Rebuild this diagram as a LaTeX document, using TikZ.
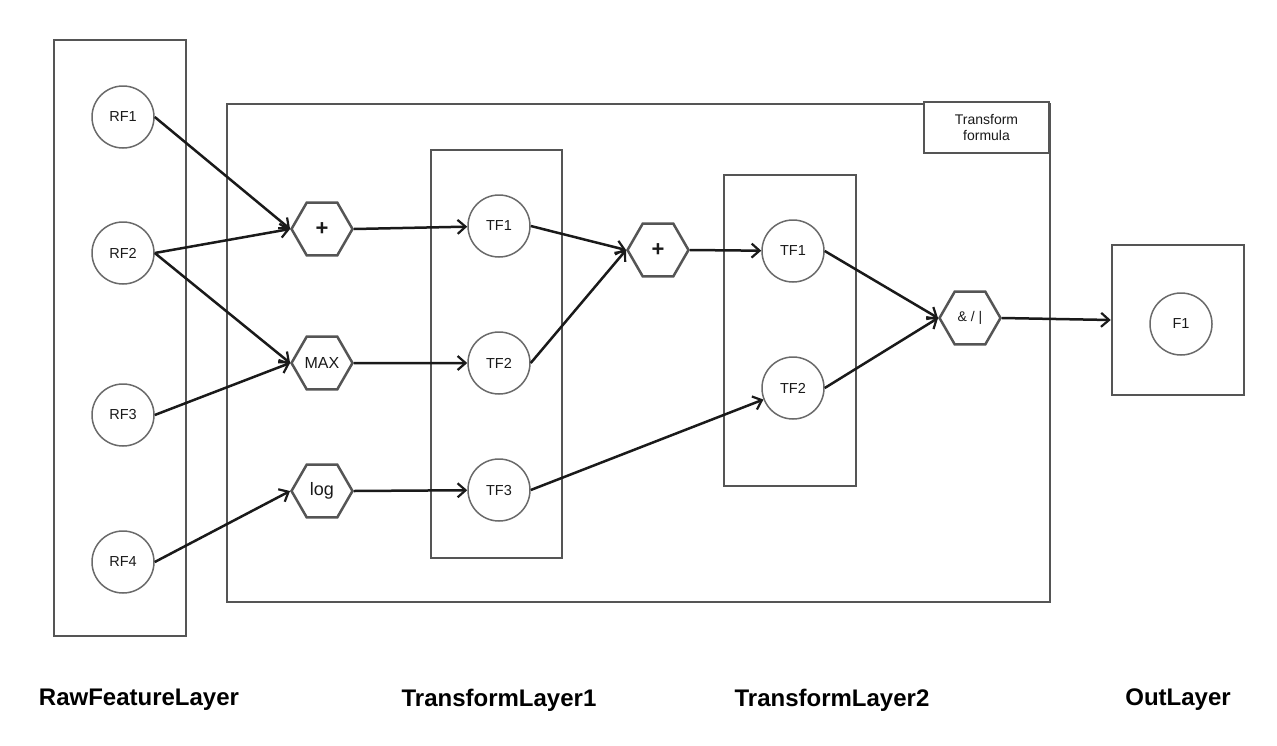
\documentclass[tikz,border=0pt]{standalone}
\usepackage{fontspec}
\setmainfont{Liberation Sans}
\usetikzlibrary{shapes.geometric,arrows.meta}
\definecolor{boxgray}{HTML}{555555}
\definecolor{circgray}{HTML}{6A6A6A}
\definecolor{ink}{HTML}{1A1A1A}
\tikzset{
  layerbox/.style={draw=boxgray, line width=2.5pt, inner sep=0pt},
  feat/.style={circle, draw=circgray, line width=1.5pt, fill=white, minimum size=62pt, inner sep=0pt, text=ink, font=\fontsize{14.5}{16}\selectfont},
  oper/.style={regular polygon, regular polygon sides=6, draw=boxgray, line width=2.5pt, fill=white, minimum size=61pt, inner sep=0pt, text=ink},
  conn/.style={draw=ink, line width=2.5pt, -{Straight Barb[length=8pt,width=14pt,line width=2.2pt]}},
  laylabel/.style={font=\bfseries\fontsize{24}{28}\selectfont, text=black}
}
\begin{document}
\begin{tikzpicture}[x=1pt,y=-1pt]
\useasboundingbox[fill=white] (0,0) rectangle (1277,745);
% boxes
\node[layerbox, minimum width=132pt, minimum height=596pt] (rawbox) at (120,338) {};
\node[layerbox, minimum width=823pt, minimum height=498pt] (bigbox) at (638.5,353) {};
\node[layerbox, minimum width=131pt, minimum height=408pt] (tl1box) at (496.5,354) {};
\node[layerbox, minimum width=132pt, minimum height=311pt] (tl2box) at (790,330.5) {};
\node[layerbox, minimum width=132pt, minimum height=150pt] (outbox) at (1178,320) {};
\node[layerbox, fill=white, minimum width=125pt, minimum height=51pt, align=center, text=ink, font=\fontsize{14}{16}\selectfont] (formula) at (986.5,127.5) {Transform\\formula};
% features
\node[feat] (rf1) at (123,117) {RF1};
\node[feat] (rf2) at (123,253) {RF2};
\node[feat] (rf3) at (123,415) {RF3};
\node[feat] (rf4) at (123,562) {RF4};
\node[feat] (tfa1) at (499,226) {TF1};
\node[feat] (tfa2) at (499,363) {TF2};
\node[feat] (tfa3) at (499,490) {TF3};
\node[feat] (tfb1) at (793,251) {TF1};
\node[feat] (tfb2) at (793,388) {TF2};
\node[feat] (f1) at (1181,324) {F1};
% operators
\node[oper, font=\bfseries\fontsize{22}{24}\selectfont] (plus1) at (322,229) {+};
\node[oper, font=\fontsize{16}{18}\selectfont] (max) at (322,363) {MAX};
\node[oper, font=\fontsize{18}{20}\selectfont] (log) at (322,491) {log};
\node[oper, font=\bfseries\fontsize{22}{24}\selectfont] (plus2) at (658,250) {+};
\node[oper, font=\fontsize{14}{16}\selectfont] (andor) at (970,318) {\& / |};
% connectors
\draw[conn] (rf1.east) -- (plus1.west);
\draw[conn] (rf2.east) -- (plus1.west);
\draw[conn] (rf2.east) -- (max.west);
\draw[conn] (rf3.east) -- (max.west);
\draw[conn] (rf4.east) -- (log.west);
\draw[conn] (plus1.east) -- (tfa1);
\draw[conn] (max.east) -- (tfa2);
\draw[conn] (log.east) -- (tfa3);
\draw[conn] (tfa1.east) -- (plus2.west);
\draw[conn] (tfa2.east) -- (plus2.west);
\draw[conn] (tfa3.east) -- (tfb2);
\draw[conn] (plus2.east) -- (tfb1);
\draw[conn] (tfb1.east) -- (andor.west);
\draw[conn] (tfb2.east) -- (andor.west);
\draw[conn] (andor.east) -- (outbox.west);
% layer labels
\node[laylabel] (lraw) at (139,700) {RawFeatureLayer};
\node[laylabel] (ltl1) at (499,700) {TransformLayer1};
\node[laylabel] (ltl2) at (832,700) {TransformLayer2};
\node[laylabel] (lout) at (1178,700) {OutLayer};
\end{tikzpicture}
\end{document}
